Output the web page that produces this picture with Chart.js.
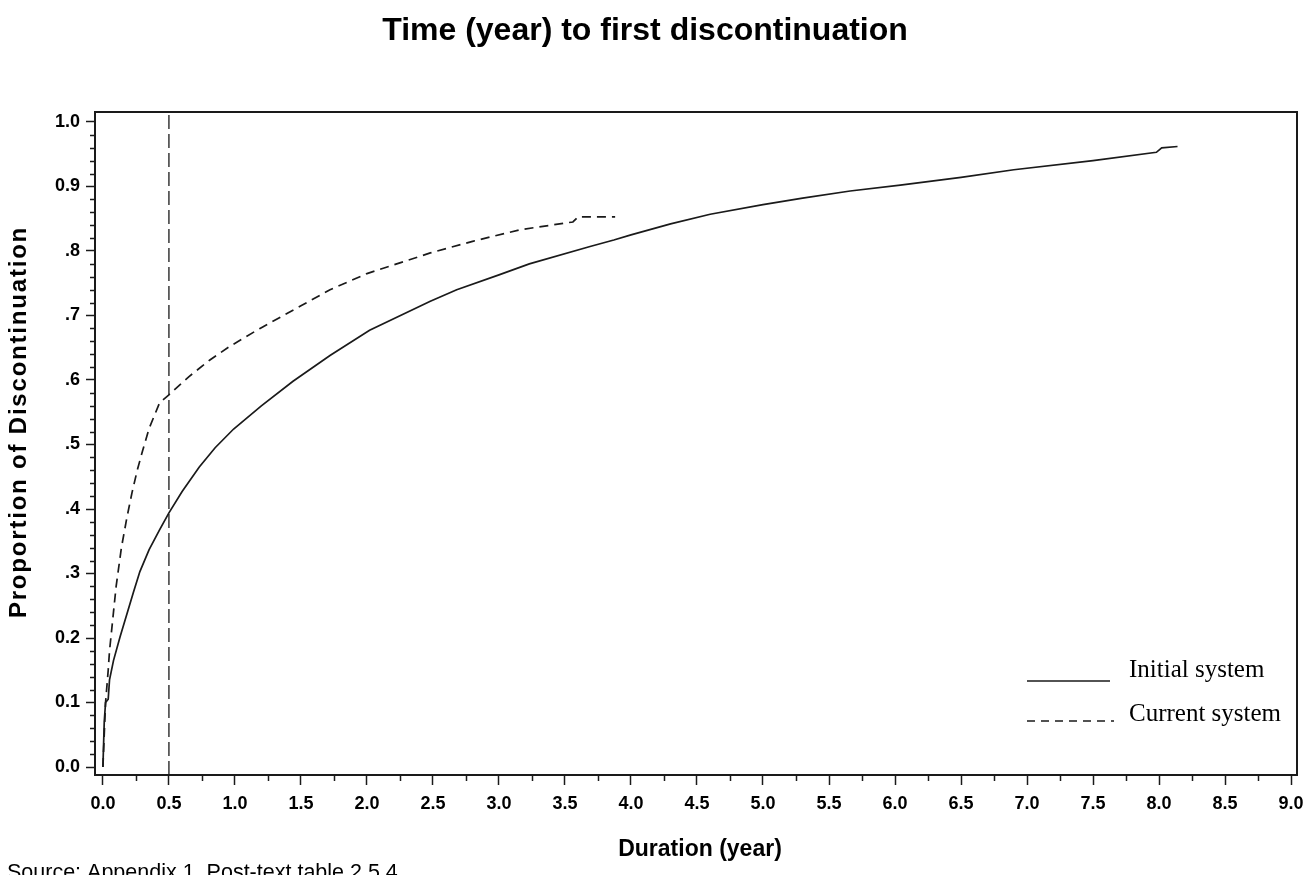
<!DOCTYPE html>
<html>
<head>
<meta charset="utf-8">
<script src="https://cdn.jsdelivr.net/npm/chart.js@4/dist/chart.umd.min.js"></script>
<style>
  html, body { margin: 0; padding: 0; background: #fff; }
  #wrap { width: 1304px; height: 875px; position: relative; overflow: hidden; }
</style>
</head>
<body>
<div id="wrap"><canvas id="c" width="1304" height="875"></canvas></div>
<script>
// ---- data ----
const initialX = [0, 0.01, 0.02, 0.04, 0.05, 0.08, 0.13, 0.23, 0.28, 0.35, 0.43, 0.5, 0.6, 0.73, 0.85, 0.99, 1.2, 1.44, 1.72, 2.02, 2.48, 2.68, 3.0, 3.23, 3.69, 3.87, 4.0, 4.3, 4.6, 5.0, 5.3, 5.66, 6.04, 6.5, 6.9, 7.5, 7.98, 8.02, 8.14];
const initialY = [0, 0.07, 0.10, 0.105, 0.135, 0.165, 0.202, 0.27, 0.303, 0.337, 0.368, 0.394, 0.427, 0.465, 0.495, 0.524, 0.560, 0.598, 0.638, 0.677, 0.722, 0.740, 0.763, 0.780, 0.807, 0.817, 0.825, 0.842, 0.857, 0.872, 0.882, 0.893, 0.902, 0.914, 0.926, 0.940, 0.953, 0.960, 0.962];

const currentX = [0, 0.01, 0.02, 0.04, 0.05, 0.08, 0.1, 0.14, 0.18, 0.22, 0.26, 0.3, 0.35, 0.43, 0.5, 0.65, 0.81, 0.96, 1.19, 1.5, 1.72, 2.0, 2.48, 2.8, 3.16, 3.56, 3.6, 3.88];
const currentY = [0, 0.05, 0.10, 0.15, 0.18, 0.24, 0.28, 0.34, 0.385, 0.425, 0.46, 0.49, 0.525, 0.565, 0.577, 0.605, 0.631, 0.652, 0.68, 0.715, 0.74, 0.765, 0.797, 0.815, 0.833, 0.845, 0.853, 0.853];

const refLineX = 0.5;

const xTickValues = [0, 0.5, 1, 1.5, 2, 2.5, 3, 3.5, 4, 4.5, 5, 5.5, 6, 6.5, 7, 7.5, 8, 8.5, 9];
const xTickLabels = ['0.0','0.5','1.0','1.5','2.0','2.5','3.0','3.5','4.0','4.5','5.0','5.5','6.0','6.5','7.0','7.5','8.0','8.5','9.0'];
const yTickValues = [0, 0.1, 0.2, 0.3, 0.4, 0.5, 0.6, 0.7, 0.8, 0.9, 1.0];
const yTickLabels = ['0.0','0.1','0.2','.3','.4','.5','.6','.7','.8','0.9','1.0'];

const seriesNames = ['Initial system', 'Current system'];
const titleText = 'Time (year) to first discontinuation';
const xTitle = 'Duration (year)';
const yTitle = 'Proportion of Discontinuation';
const footnote = 'Source: Appendix 1, Post-text table 2.5.4';

// ---- chart ----
const INK = '#1a1a1a';
const toPts = (xs, ys) => xs.map((x, i) => ({ x: x, y: ys[i] }));

const decor = {
  id: 'decor',
  afterDraw(chart) {
    const ctx = chart.ctx;
    const a = chart.chartArea;
    const xs = chart.scales.x, ys = chart.scales.y;
    ctx.save();
    // frame
    ctx.strokeStyle = INK;
    ctx.lineWidth = 2;
    ctx.strokeRect(a.left, a.top, a.right - a.left, a.bottom - a.top);
    // minor ticks
    ctx.lineWidth = 1.5;
    ctx.beginPath();
    for (let i = 0; i < xTickValues.length - 1; i++) {
      const v = (xTickValues[i] + xTickValues[i + 1]) / 2;
      const px = Math.round(xs.getPixelForValue(v)) + 0.5;
      ctx.moveTo(px, a.bottom); ctx.lineTo(px, a.bottom + 6);
    }
    for (let i = 0; i < yTickValues.length - 1; i++) {
      for (let k = 1; k < 5; k++) {
        const v = yTickValues[i] + (yTickValues[i + 1] - yTickValues[i]) * k / 5;
        const py = Math.round(ys.getPixelForValue(v)) + 0.5;
        ctx.moveTo(a.left - 5, py); ctx.lineTo(a.left, py);
      }
    }
    ctx.stroke();

    // title
    ctx.fillStyle = '#000';
    ctx.textAlign = 'center';
    ctx.textBaseline = 'alphabetic';
    ctx.font = 'bold 32px "Liberation Sans", Arial, sans-serif';
    ctx.fillText(titleText, 645, 40);
    // x title
    ctx.font = 'bold 23px "Liberation Sans", Arial, sans-serif';
    ctx.fillText(xTitle, 700, 856);
    // y title
    ctx.save();
    ctx.translate(26, 422);
    ctx.rotate(-Math.PI / 2);
    ctx.font = 'bold 24px "Liberation Sans", Arial, sans-serif';
    ctx.letterSpacing = '1.8px';
    ctx.fillText(yTitle, 0, 0);
    ctx.restore();
    // footnote
    ctx.textAlign = 'left';
    ctx.font = '21.5px "Liberation Sans", Arial, sans-serif';
    ctx.fillText(footnote, 7, 879);

    // legend
    ctx.strokeStyle = INK;
    ctx.lineWidth = 1.5;
    ctx.beginPath();
    ctx.moveTo(1027, 681); ctx.lineTo(1110, 681);
    ctx.stroke();
    ctx.setLineDash([8, 6]);
    ctx.beginPath();
    ctx.moveTo(1027, 721); ctx.lineTo(1114, 721);
    ctx.stroke();
    ctx.setLineDash([]);
    ctx.font = '25px "Liberation Serif", "Times New Roman", serif';
    ctx.fillText(seriesNames[0], 1129, 677);
    ctx.fillText(seriesNames[1], 1129, 721);
    ctx.restore();
  }
};

new Chart(document.getElementById('c'), {
  type: 'line',
  data: {
    datasets: [
      {
        label: seriesNames[0],
        data: toPts(initialX, initialY),
        borderColor: INK, borderWidth: 1.7, pointRadius: 0, tension: 0, fill: false
      },
      {
        label: seriesNames[1],
        data: toPts(currentX, currentY),
        borderColor: INK, borderWidth: 1.7, borderDash: [9, 6], pointRadius: 0, tension: 0, fill: false
      },
      {
        label: 'ref',
        data: [{ x: refLineX, y: -0.0124 }, { x: refLineX, y: 1.0155 }],
        borderColor: INK, borderWidth: 1.3, borderDash: [14, 5], pointRadius: 0, fill: false
      }
    ]
  },
  options: {
    responsive: false,
    animation: false,
    events: [],
    layout: { padding: { top: 112, right: 7, left: 0, bottom: 0 } },
    plugins: { legend: { display: false }, title: { display: false }, tooltip: { enabled: false } },
    scales: {
      x: {
        type: 'linear',
        min: -0.06, max: 9.045,
        afterBuildTicks: (s) => { s.ticks = xTickValues.map(v => ({ value: v })); },
        afterFit: (s) => { s.height = 100; s.paddingRight = 0; s.paddingLeft = 0; },
        grid: { drawOnChartArea: false, drawTicks: true, tickLength: 10, tickColor: INK, tickWidth: 1.5 },
        border: { display: true, color: INK, width: 2 },
        ticks: {
          autoSkip: false, maxRotation: 0, padding: 8, color: '#000',
          font: { family: '"Liberation Sans", Arial, sans-serif', size: 18, weight: 'bold' },
          callback: (v, i) => xTickLabels[i]
        }
      },
      y: {
        type: 'linear',
        min: -0.0124, max: 1.0155,
        afterBuildTicks: (s) => { s.ticks = yTickValues.map(v => ({ value: v })); },
        afterFit: (s) => { s.width = 95; s.paddingTop = 0; s.paddingBottom = 0; },
        grid: { drawOnChartArea: false, drawTicks: true, tickLength: 9, tickColor: INK, tickWidth: 1.5 },
        border: { display: true, color: INK, width: 2 },
        ticks: {
          autoSkip: false, padding: 6, color: '#000',
          font: { family: '"Liberation Sans", Arial, sans-serif', size: 18, weight: 'bold' },
          callback: (v, i) => yTickLabels[i]
        }
      }
    }
  },
  plugins: [decor]
});
</script>
</body>
</html>
